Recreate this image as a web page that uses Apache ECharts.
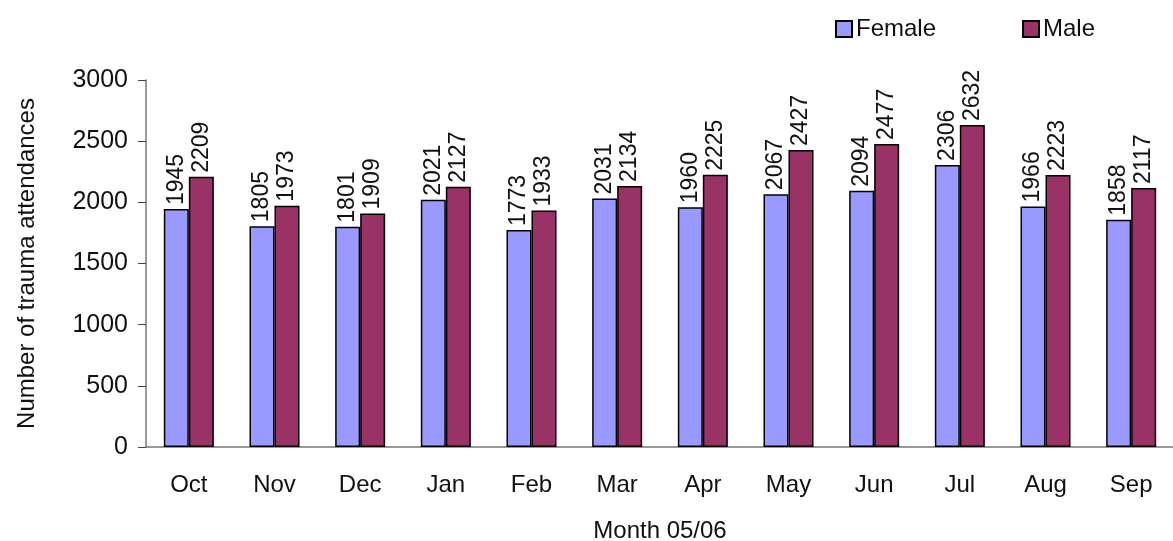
<!DOCTYPE html>
<html>
<head>
<meta charset="utf-8">
<script src="https://cdn.jsdelivr.net/npm/echarts@6/dist/echarts.min.js"></script>
<style>
  html, body { margin: 0; padding: 0; background: #fff; }
  #chart { width: 1173px; height: 541px; }
</style>
</head>
<body>
<div id="chart"></div>
<script>
var months = ["Oct", "Nov", "Dec", "Jan", "Feb", "Mar", "Apr", "May", "Jun", "Jul", "Aug", "Sep"];
var female = [1945, 1805, 1801, 2021, 1773, 2031, 1960, 2067, 2094, 2306, 1966, 1858];
var male = [2209, 1973, 1909, 2127, 1933, 2134, 2225, 2427, 2477, 2632, 2223, 2117];

var font = "Liberation Sans";
var chart = echarts.init(document.getElementById("chart"));

var barLabel = {
    show: true,
    position: "top",
    rotate: 90,
    align: "left",
    verticalAlign: "middle",
    distance: 4,
    fontFamily: font,
    fontSize: 23,
    color: "#111"
};

chart.setOption({
    animation: false,
    textStyle: { fontFamily: font },
    legend: {
        top: 12,
        left: 830,
        itemWidth: 16,
        itemHeight: 16,
        itemGap: 86,
        icon: "rect",
        textStyle: { fontSize: 24, color: "#111", padding: [0, 0, 0, -1] },
        data: ["Female", "Male"]
    },
    grid: { left: 146, top: 80, width: 1028, height: 367, outerBoundsMode: "none", containLabel: false },
    xAxis: {
        type: "category",
        data: months,
        name: "Month 05/06",
        nameLocation: "middle",
        nameGap: 72,
        nameTextStyle: { fontSize: 24, color: "#111" },
        axisLine: { lineStyle: { color: "#777", width: 1.5 } },
        axisTick: { length: 8, lineStyle: { color: "#444" } },
        axisLabel: { margin: 26, fontSize: 24, color: "#111" }
    },
    yAxis: {
        type: "value",
        min: 0,
        max: 3000,
        interval: 500,
        name: "Number of trauma attendances",
        nameLocation: "middle",
        nameGap: 107,
        nameTextStyle: { fontSize: 24, color: "#111" },
        splitLine: { show: false },
        axisLine: { show: true, lineStyle: { color: "#777", width: 1.5 } },
        axisTick: { show: true, length: 8, lineStyle: { color: "#444" } },
        axisLabel: { margin: 18, fontSize: 25, color: "#111", formatter: function (v) { return String(v); } }
    },
    series: [
        {
            name: "Female",
            type: "bar",
            data: female,
            barWidth: 25,
            barGap: 0,
            itemStyle: { color: "#9999ff", borderColor: "#000", borderWidth: 1.5 },
            label: barLabel
        },
        {
            name: "Male",
            type: "bar",
            data: male,
            barWidth: 25,
            barGap: 0,
            itemStyle: { color: "#993366", borderColor: "#000", borderWidth: 1.5 },
            label: barLabel
        }
    ]
});
</script>
</body>
</html>
